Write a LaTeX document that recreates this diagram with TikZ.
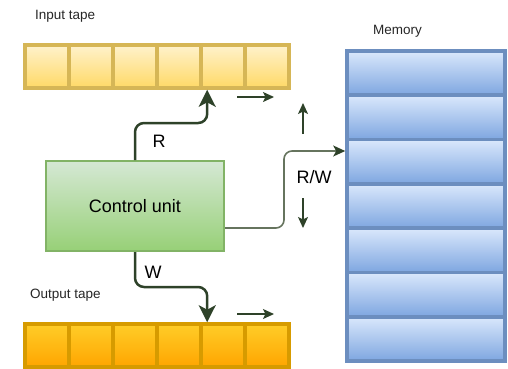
\documentclass[tikz,border=0pt]{standalone}
\usepackage{fontspec}
\setmainfont{Liberation Sans}
\usetikzlibrary{arrows.meta,calc}
\definecolor{inT}{HTML}{FFF2CC}
\definecolor{inB}{HTML}{FFD966}
\definecolor{inS}{HTML}{D6B656}
\definecolor{outT}{HTML}{FFCD28}
\definecolor{outB}{HTML}{FFA500}
\definecolor{outS}{HTML}{D79B00}
\definecolor{memT}{HTML}{DAE8FC}
\definecolor{memB}{HTML}{7EA6E0}
\definecolor{memS}{HTML}{6C8EBF}
\definecolor{cuT}{HTML}{D5E8D4}
\definecolor{cuB}{HTML}{97D077}
\definecolor{cuS}{HTML}{82B366}
\definecolor{arrD}{HTML}{2E4229}
\definecolor{arrL}{HTML}{66745E}
\begin{document}
\begin{tikzpicture}[x=1pt,y=-1pt,
  cellbase/.style={draw,line width=3.6pt,inner sep=0pt,minimum width=44pt,minimum height=43pt},
  incell/.style={cellbase,draw=inS,top color=inT,bottom color=inB},
  outcell/.style={cellbase,draw=outS,top color=outT,bottom color=outB},
  memcell/.style={cellbase,draw=memS,top color=memT,bottom color=memB,minimum width=158pt,minimum height=44.29pt},
  cubox/.style={draw=cuS,line width=2pt,top color=cuT,bottom color=cuB,inner sep=0pt,minimum width=178pt,minimum height=90pt,font=\fontsize{18}{20}\selectfont},
  lbl/.style={font=\fontsize{13.5}{15}\selectfont,text=black!85,inner sep=0pt},
  biglbl/.style={font=\fontsize{18}{20}\selectfont,inner sep=0pt},
  heavy/.style={draw=arrD,line width=2.5pt,rounded corners=9pt,-{Stealth[length=17pt,width=17pt,inset=4.5pt]}},
  light/.style={draw=arrL,line width=1.6pt,rounded corners=8pt,-{Stealth[length=12pt,width=11pt,inset=3pt,color=arrD]}},
  small/.style={draw=arrD,line width=1.4pt,-{Stealth[length=11pt,width=10pt,inset=2.5pt]}}
]
\useasboundingbox (0,0) rectangle (508,368);
\clip (0,0) rectangle (508,368);
% tapes
\foreach \i in {1,...,6} {
  \node[incell] (in\i) at ({25+44*(\i-0.5)},66.5) {};
  \node[outcell] (out\i) at ({25+44*(\i-0.5)},345.5) {};
}
% memory
\foreach \i in {1,...,7} {
  \node[memcell] (mem\i) at (426,{51+44.2857*(\i-0.5)}) {};
}
% control unit
\node[cubox] (cu) at (135,206) {Control unit};
% labels
\node[lbl,anchor=west] (inlbl) at (35,16) {Input tape};
\node[lbl,anchor=west] (outlbl) at (30,295) {Output tape};
\node[lbl,anchor=west] (memlbl) at (373,31) {Memory};
\node[biglbl] (rlbl) at (159,141) {R};
\node[biglbl] (wlbl) at (153,272) {W};
\node[biglbl] (rwlbl) at (314,177) {R/W};
% connectors
\draw[heavy] (cu.north) -- ++(0,-37) -| ([xshift=8pt]in5.south west);
\draw[heavy] (cu.south) -- ++(0,35) -| ([xshift=8pt]out5.north west);
\coordinate (rwa) at (284,228);
\coordinate (rwb) at (284,151);
\draw[light] ([yshift=-22pt]cu.east) -- (rwa) -- (rwb) -- (rwb -| mem3.west);
% movement arrows
\coordinate (ia) at (237,97); \coordinate (ib) at (274,97);
\coordinate (oa) at (237,314); \coordinate (ob) at (274,314);
\coordinate (ua) at (303,134); \coordinate (ub) at (303,103);
\coordinate (da) at (303,198); \coordinate (db) at (303,228);
\draw[small] (ia) -- (ib);
\draw[small] (oa) -- (ob);
\draw[small] (ua) -- (ub);
\draw[small] (da) -- (db);
\end{tikzpicture}
\end{document}
